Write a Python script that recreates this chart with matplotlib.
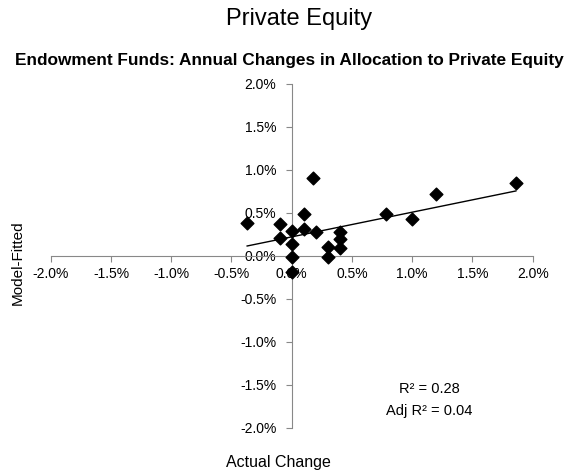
import numpy as np
import matplotlib.pyplot as plt
from matplotlib.ticker import FuncFormatter

plt.rcParams['font.family'] = ['Liberation Sans', 'DejaVu Sans']

# data, in percent
actual = [-0.37, -0.10, -0.10, 0.0, 0.0, 0.0, 0.0, 0.105, 0.105, 0.175,
          0.20, 0.30, 0.30, 0.40, 0.40, 0.40, 0.78, 1.00, 1.20, 1.86]
fitted = [0.385, 0.37, 0.20, 0.29, 0.14, -0.01, -0.19, 0.49, 0.31, 0.90,
          0.28, 0.105, -0.02, 0.28, 0.195, 0.085, 0.49, 0.43, 0.72, 0.84]
ticks = [-2.0, -1.5, -1.0, -0.5, 0.0, 0.5, 1.0, 1.5, 2.0]

x = np.array(actual)
y = np.array(fitted)
slope, intercept = np.polyfit(x, y, 1)
xl = np.array([x.min(), x.max()])

fig = plt.figure(figsize=(5.68, 4.75), dpi=100)
ax = fig.add_axes([0.0893, 0.0996, 0.8486, 0.7242])

ax.plot(xl, slope * xl + intercept, color='black', lw=1)
ax.scatter(x, y, marker='D', s=42, color='black', zorder=3)

ax.set_xlim(-2, 2)
ax.set_ylim(-2, 2)
ax.set_xticks(ticks)
ax.set_yticks(ticks)
fmt = FuncFormatter(lambda v, p: f'{v:.1f}%')
ax.xaxis.set_major_formatter(fmt)
ax.yaxis.set_major_formatter(fmt)

ax.spines['left'].set_position(('data', 0))
ax.spines['bottom'].set_position(('data', 0))
ax.spines['right'].set_visible(False)
ax.spines['top'].set_visible(False)
for s in ['left', 'bottom']:
    ax.spines[s].set_color('#888888')
ax.tick_params(colors='#888888', labelcolor='black', labelsize=10, length=4)
ax.tick_params(axis='y', pad=7)
ax.tick_params(axis='x', pad=4)

ax.text(1.14, -1.55, 'R² = 0.28', fontsize=10.5, ha='center', va='center')
ax.text(1.14, -1.81, 'Adj R² = 0.04', fontsize=10.5, ha='center', va='center')

fig.text(0.526, 0.960, 'Private Equity', fontsize=17, ha='center', va='center')
fig.text(0.509, 0.872, 'Endowment Funds: Annual Changes in Allocation to Private Equity',
         fontsize=12.4, fontweight='bold', ha='center', va='center')
fig.text(0.491, 0.027, 'Actual Change', fontsize=11.5, ha='center', va='center')
fig.text(0.032, 0.448, 'Model-Fitted', fontsize=11, rotation=90, ha='center', va='center')

fig.savefig('out.png', dpi=100)
